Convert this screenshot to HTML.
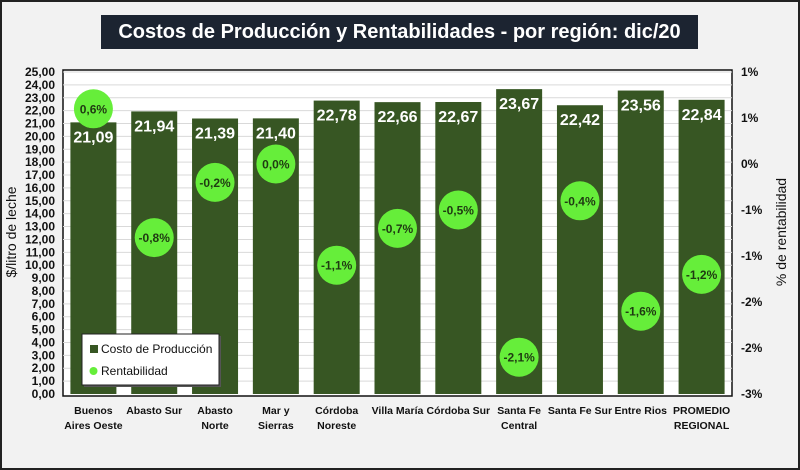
<!DOCTYPE html>
<html><head><meta charset="utf-8">
<style>
html,body{margin:0;padding:0;background:#f2f2f2;}
body{width:800px;height:470px;overflow:hidden;font-family:"Liberation Sans",sans-serif;}
#frame{position:absolute;left:0;top:0;width:796px;height:466px;border:2px solid #222;background:#f2f2f2;}
#title{position:absolute;left:101px;top:15px;width:597px;height:34px;background:#1c2431;color:#fff;font-weight:bold;font-size:20px;line-height:34px;text-align:center;}
</style></head>
<body>
<div id="frame"></div>
<div id="title">Costos de Producción y Rentabilidades - por región: dic/20</div>
<svg id="chart" width="800" height="470" style="position:absolute;left:0;top:0"></svg>
<script>
const categories=[["Buenos","Aires Oeste"],["Abasto Sur"],["Abasto","Norte"],["Mar y","Sierras"],["Córdoba","Noreste"],["Villa María"],["Córdoba Sur"],["Santa Fe","Central"],["Santa Fe Sur"],["Entre Rios"],["PROMEDIO","REGIONAL"]];
const costs=[21.09,21.94,21.39,21.40,22.78,22.66,22.67,23.67,22.42,23.56,22.84];
const rent=[0.6,-0.8,-0.2,0.0,-1.1,-0.7,-0.5,-2.1,-0.4,-1.6,-1.2];
const leftTicks=[0,1,2,3,4,5,6,7,8,9,10,11,12,13,14,15,16,17,18,19,20,21,22,23,24,25];
const rightTicks=[1,0.5,0,-0.5,-1,-1.5,-2,-2.5];
const rightLabels=["1%","1%","0%","-1%","-1%","-2%","-2%","-3%"];

const NS="http://www.w3.org/2000/svg";
const svg=document.getElementById('chart');
const PL=63,PR=732,PT=70,PB=396,Y0=394,Y25=72;
const yL=v=>Y0-(v/25)*(Y0-Y25);
const yR=v=>Y25+((1-v)/3.5)*(Y0-Y25);
const slot=(PR-PL)/categories.length;
const xc=i=>PL+slot*(i+0.5);
function mk(tag,attrs,parent){const e=document.createElementNS(NS,tag);for(const k in attrs)e.setAttribute(k,attrs[k]);(parent||svg).appendChild(e);return e;}

const plot=mk('rect',{x:PL,y:PT,width:PR-PL,height:PB-PT,fill:'#fff',stroke:'#111','stroke-width':1.5});



leftTicks.forEach(v=>{
  if(v>0){const g=mk('line',{x1:PL,x2:PR,y1:yL(v),y2:yL(v),stroke:'#d9d9d9','stroke-width':1});
  
  }
  const t=mk('text',{x:55,y:yL(v)+4,'text-anchor':'end','font-size':12,'font-weight':'bold',fill:'#111'});
  t.textContent=v.toFixed(2).replace('.',',');
  
  
});
rightTicks.forEach((v,i)=>{
  const t=mk('text',{x:741,y:yR(v)+4,'font-size':12,'font-weight':'bold',fill:'#111'});
  t.textContent=rightLabels[i];
  
  
});

const yt=mk('text',{transform:'translate(16,232) rotate(-90)','text-anchor':'middle','font-size':14,fill:'#111'});
yt.textContent='$/litro de leche';


const yt2=mk('text',{transform:'translate(786,232) rotate(-90)','text-anchor':'middle','font-size':14,fill:'#111'});
yt2.textContent='% de rentabilidad';



const bw=46;
costs.forEach((v,i)=>{
  const b=mk('rect',{x:xc(i)-bw/2,y:yL(v),width:bw,height:Y0-yL(v),fill:'#375623'});
  
  
  const t=mk('text',{x:xc(i),y:yL(v)+20,'text-anchor':'middle','font-size':16,'font-weight':'bold',fill:'#fff'});
  t.textContent=v.toFixed(2).replace('.',',');
  
  
});
categories.forEach((c,i)=>{
  c.forEach((line,j)=>{
    const t=mk('text',{x:xc(i),y:414+j*15,'text-anchor':'middle','font-size':10.5,'font-weight':'bold',fill:'#111',textLength:'',});
    t.removeAttribute('textLength');
    t.textContent=line;
    
    
  });
});
rent.forEach((v,i)=>{
  const c=mk('circle',{cx:xc(i),cy:yR(v),r:19.5,fill:'#66ee3a'});
  
  
  const t=mk('text',{x:xc(i),y:yR(v)+4.5,'text-anchor':'middle','font-size':12,'font-weight':'bold',fill:'#1f3a12'});
  t.textContent=v.toFixed(1).replace('.',',')+'%';
  
  
});

const lg=mk('g',{});


mk('rect',{x:84,y:336,width:137,height:51,fill:'#555'},lg);
mk('rect',{x:82,y:334,width:137,height:51,fill:'#fff',stroke:'#222','stroke-width':1},lg);
const ls=mk('rect',{x:90,y:345,width:8,height:8,fill:'#375623'},lg);


const lt1=mk('text',{x:101,y:353,'font-size':12,fill:'#111'},lg);
lt1.textContent='Costo de Producción';


const lc=mk('circle',{cx:93.5,cy:371,r:4,fill:'#66ee3a'},lg);


const lt2=mk('text',{x:101,y:375,'font-size':12,fill:'#111'},lg);
lt2.textContent='Rentabilidad';


</script>
</body></html>
